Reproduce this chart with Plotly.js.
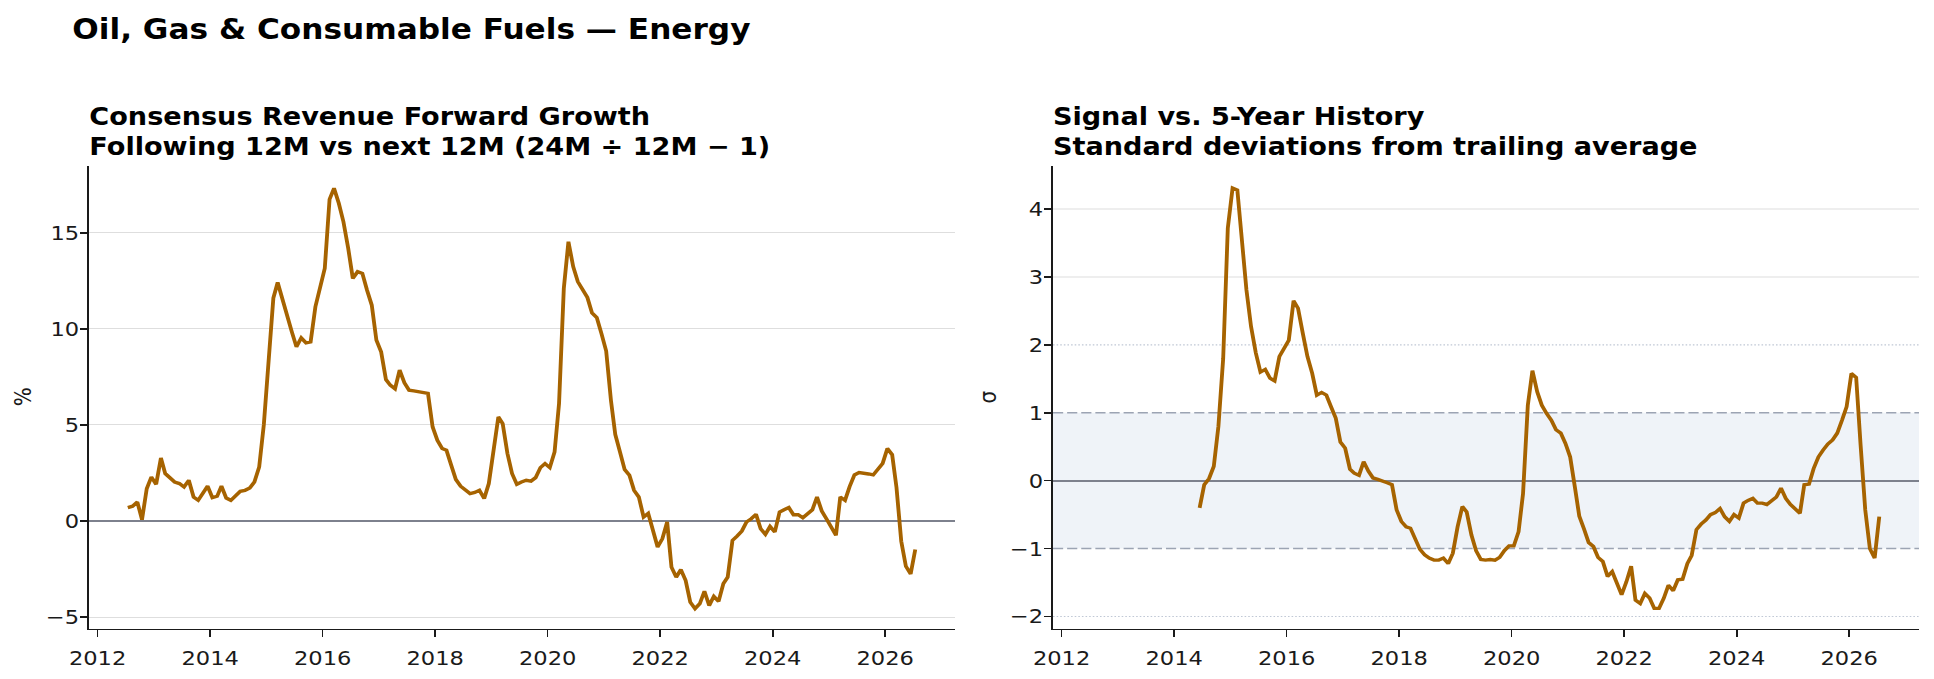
<!DOCTYPE html>
<html>
<head>
<meta charset="utf-8">
<script src="https://cdn.plot.ly/plotly-3.0.1.min.js"></script>
<style>
  html, body { margin: 0; padding: 0; background: #ffffff; overflow: hidden; }
  #frame { width: 1934px; height: 679px; overflow: hidden; }
  #chart { height: 679px; transform-origin: 0 0; }
</style>
</head>
<body>
<div id="frame"><div id="chart"></div></div>
<script>
// Consensus revenue forward growth (%), monthly from July 2012
const growthPct = [
  0.70, 0.77, 0.99, 0.07, 1.69, 2.29, 1.91, 3.28, 2.47, 2.26, 2.03, 1.95,
  1.77, 2.12, 1.25, 1.08, 1.43, 1.82, 1.22, 1.29, 1.82, 1.20, 1.08, 1.34,
  1.55, 1.60, 1.72, 2.03, 2.81, 5.00, 8.00, 11.60, 12.41, 11.49, 10.63, 9.84,
  9.06, 9.53, 9.27, 9.32, 11.15, 12.19, 13.15, 16.74, 17.31, 16.53, 15.57, 14.19,
  12.62, 12.97, 12.88, 12.02, 11.23, 9.41, 8.80, 7.36, 7.07, 6.88, 7.85, 7.19,
  6.81, 6.77, 6.74, 6.69, 6.64, 4.90, 4.20, 3.77, 3.68, 2.90, 2.16, 1.81,
  1.60, 1.43, 1.49, 1.60, 1.17, 1.95, 3.68, 5.42, 5.07, 3.51, 2.47, 1.91,
  2.03, 2.12, 2.08, 2.26, 2.78, 2.99, 2.78, 3.59, 6.11, 12.10, 14.53, 13.23,
  12.45, 12.02, 11.63, 10.83, 10.59, 9.76, 8.85, 6.28, 4.51, 3.59, 2.68, 2.38,
  1.60, 1.25, 0.21, 0.40, -0.45, -1.35, -0.92, -0.05, -2.40, -2.92, -2.53, -3.09,
  -4.22, -4.56, -4.30, -3.65, -4.39, -3.92, -4.18, -3.26, -2.92, -1.01, -0.78, -0.52,
  -0.05, 0.12, 0.35, -0.40, -0.69, -0.28, -0.57, 0.47, 0.59, 0.70, 0.33, 0.33,
  0.17, 0.38, 0.59, 1.25, 0.52, 0.12, -0.31, -0.74, 1.25, 1.08, 1.80, 2.40,
  2.52, 2.50, 2.45, 2.40, 2.73, 2.99, 3.77, 3.45, 1.75, -1.05, -2.35, -2.75,
  -1.48
];

// Z-score of the same signal vs. its trailing 5-year history (σ), from June 2014
const signalSigma = [
  -0.40, -0.06, 0.03, 0.21, 0.80, 1.80, 3.72, 4.31, 4.28, 3.55, 2.81, 2.27,
  1.88, 1.60, 1.64, 1.51, 1.47, 1.83, 1.95, 2.07, 2.65, 2.54, 2.17, 1.83,
  1.58, 1.26, 1.30, 1.26, 1.09, 0.92, 0.57, 0.48, 0.17, 0.11, 0.08, 0.28,
  0.14, 0.04, 0.02, 0.00, -0.03, -0.06, -0.43, -0.60, -0.68, -0.70, -0.86, -1.01,
  -1.09, -1.14, -1.17, -1.17, -1.14, -1.22, -1.07, -0.68, -0.38, -0.46, -0.80, -1.03,
  -1.16, -1.17, -1.16, -1.17, -1.13, -1.03, -0.96, -0.96, -0.75, -0.19, 1.11, 1.62,
  1.31, 1.11, 0.99, 0.89, 0.75, 0.70, 0.55, 0.35, -0.10, -0.52, -0.71, -0.91,
  -0.97, -1.13, -1.19, -1.41, -1.34, -1.51, -1.68, -1.49, -1.26, -1.76, -1.81, -1.66,
  -1.73, -1.88, -1.88, -1.73, -1.54, -1.62, -1.46, -1.45, -1.22, -1.10, -0.72, -0.64,
  -0.58, -0.50, -0.47, -0.41, -0.53, -0.60, -0.50, -0.55, -0.33, -0.29, -0.26, -0.33,
  -0.33, -0.35, -0.29, -0.24, -0.11, -0.26, -0.35, -0.41, -0.48, -0.06, -0.05, 0.18,
  0.35, 0.45, 0.54, 0.60, 0.70, 0.89, 1.09, 1.58, 1.52, 0.55, -0.43, -1.00,
  -1.14, -0.53
];

// σ axis ticks, the band of "normal" readings and the wider reference levels
const sigmaTicks = [-2, -1, 0, 1, 2, 3, 4];
const normalBand = [-1, 1];
const extremeLevels = [-2, 2];

const FIRST_YEAR = 2012, FIRST_MONTH = 7;   // series start (July 2012)

// Mid-month date labels for a monthly series
function monthlyDates(count) {
  const out = [];
  for (let k = 0; k < count; k++) {
    const m0 = FIRST_MONTH - 1 + k;
    const y = FIRST_YEAR + Math.floor(m0 / 12);
    const m = (m0 % 12) + 1;
    out.push(y + '-' + String(m).padStart(2, '0') + '-15');
  }
  return out;
}

const growthDates = monthlyDates(growthPct.length);
const sigmaDates = growthDates.slice(growthDates.length - signalSigma.length);

// The figure is laid out on a narrower canvas and widened horizontally,
// which gives the broad lettering of the original figure.
const W = 1934, H = 679;
const STRETCH = 1.13;
const WP = Math.round(W / STRETCH);
const sx = W / WP;
const chartEl = document.getElementById('chart');
chartEl.style.width = WP + 'px';
chartEl.style.transform = 'scaleX(' + sx + ')';

const FONT = 'DejaVu Sans, Verdana, sans-serif';
const LINE_COLOR = '#a66300';
const INK = '#1a1a1a';

const traces = [
  { x: growthDates, y: growthPct, xaxis: 'x', yaxis: 'y', type: 'scatter', mode: 'lines',
    line: { color: LINE_COLOR, width: 3.4 }, hoverinfo: 'skip' },
  { x: sigmaDates, y: signalSigma, xaxis: 'x2', yaxis: 'y2', type: 'scatter', mode: 'lines',
    line: { color: LINE_COLOR, width: 3.4 }, hoverinfo: 'skip' }
];

const xCommon = {
  type: 'date',
  range: ['2011-11-06', '2027-03-30'],
  tick0: '2012-01-01', dtick: 'M24', tickformat: '%Y',
  showgrid: false, zeroline: false,
  showline: true, linecolor: INK, linewidth: 1.6,
  ticks: 'outside', ticklen: 7, tickwidth: 1.5, tickcolor: INK,
  tickfont: { family: FONT, size: 20, color: INK },
  ticklabelstandoff: 4
};
const yCommon = {
  zeroline: true, zerolinecolor: '#7d818d', zerolinewidth: 2,
  showline: true, linecolor: INK, linewidth: 1.5,
  ticks: 'outside', ticklen: 6.2, tickwidth: 1.6, tickcolor: INK,
  tickfont: { family: FONT, size: 20, color: INK },
  ticklabelstandoff: -3
};

const yDom = [1 - 628.5 / H, 1 - 166 / H];
const GRID = '#dedede';

const shapes = [
  { type: 'rect', xref: 'x2 domain', yref: 'y2', x0: 0, x1: 1, y0: normalBand[0], y1: normalBand[1],
    fillcolor: '#eff3f8', line: { width: 0 }, layer: 'below' }
];
// plain grid lines on the σ panel where no reference line sits
sigmaTicks
  .filter(v => v !== 0 && !normalBand.includes(v) && !extremeLevels.includes(v))
  .forEach(v => shapes.push({ type: 'line', xref: 'x2 domain', yref: 'y2', x0: 0, x1: 1, y0: v, y1: v,
    line: { color: GRID, width: 1 }, layer: 'below' }));
normalBand.forEach(v => shapes.push({ type: 'line', xref: 'x2 domain', yref: 'y2', x0: 0, x1: 1, y0: v, y1: v,
  line: { color: '#9ca4b3', width: 1.5, dash: '9px,3.5px' }, layer: 'below' }));
extremeLevels.forEach(v => shapes.push({ type: 'line', xref: 'x2 domain', yref: 'y2', x0: 0, x1: 1, y0: v, y1: v,
  line: { color: '#c0c8d5', width: 1.2, dash: '1.4px,1.8px' }, layer: 'below' }));

const layout = {
  width: WP, height: H,
  margin: { l: 0, r: 0, t: 0, b: 0 },
  paper_bgcolor: '#ffffff', plot_bgcolor: '#ffffff',
  showlegend: false,
  font: { family: FONT, color: INK },
  xaxis: Object.assign({}, xCommon, { domain: [89 / W, 955 / W], anchor: 'y' }),
  yaxis: Object.assign({}, yCommon, { domain: yDom, anchor: 'x', range: [-5.59, 18.47], tick0: 0, dtick: 5,
    showgrid: true, gridcolor: GRID, gridwidth: 1 }),
  xaxis2: Object.assign({}, xCommon, { domain: [1053 / W, 1919 / W], anchor: 'y2' }),
  yaxis2: Object.assign({}, yCommon, { domain: yDom, anchor: 'x2', range: [-2.177, 4.635],
    tickmode: 'array', tickvals: sigmaTicks, showgrid: false }),
  shapes: shapes,
  annotations: [
    { text: '<b>Oil, Gas & Consumable Fuels — Energy</b>', xref: 'paper', yref: 'paper',
      x: 70 / W, y: 1 - 29.5 / H, xanchor: 'left', yanchor: 'middle', showarrow: false,
      font: { family: FONT, size: 27.6, color: '#000' } },
    { text: '<b>Consensus Revenue Forward Growth</b>', xref: 'paper', yref: 'paper',
      x: 87 / W, y: 1 - 116.6 / H, xanchor: 'left', yanchor: 'middle', showarrow: false,
      font: { family: FONT, size: 24, color: '#000' } },
    { text: '<b>Following 12M vs next 12M (24M ÷ 12M − 1)</b>', xref: 'paper', yref: 'paper',
      x: 87 / W, y: 1 - 146.6 / H, xanchor: 'left', yanchor: 'middle', showarrow: false,
      font: { family: FONT, size: 24, color: '#000' } },
    { text: '<b>Signal vs. 5-Year History</b>', xref: 'paper', yref: 'paper',
      x: 1051 / W, y: 1 - 116.6 / H, xanchor: 'left', yanchor: 'middle', showarrow: false,
      font: { family: FONT, size: 24, color: '#000' } },
    { text: '<b>Standard deviations from trailing average</b>', xref: 'paper', yref: 'paper',
      x: 1051 / W, y: 1 - 146.6 / H, xanchor: 'left', yanchor: 'middle', showarrow: false,
      font: { family: FONT, size: 24, color: '#000' } },
    { text: '%', xref: 'paper', yref: 'paper', x: 23 / W, y: 1 - 397 / H,
      xanchor: 'center', yanchor: 'middle', textangle: -90, showarrow: false,
      font: { family: FONT, size: 20, color: INK } },
    { text: 'σ', xref: 'paper', yref: 'paper', x: 988 / W, y: 1 - 397 / H,
      xanchor: 'center', yanchor: 'middle', textangle: -90, showarrow: false,
      font: { family: FONT, size: 20, color: INK } }
  ]
};

Plotly.newPlot('chart', traces, layout, { staticPlot: true, displayModeBar: false });
</script>
</body>
</html>
